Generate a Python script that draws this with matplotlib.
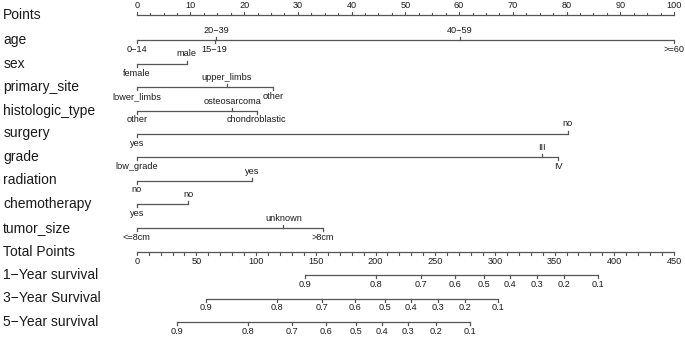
import numpy as np
import matplotlib.pyplot as plt

plt.rcParams['font.family'] = ['Liberation Sans', 'DejaVu Sans']

# predictor rows: level labels, points, label side (1 above / -1 below)
age_levels = ["0\u221214", "15\u221219", "20\u221239", "40\u221259", ">=60"]
age_points = [0, 14.5, 14.8, 60.1, 100]
age_side = [-1, -1, 1, 1, -1]

sex_levels = ["female", "male"]
sex_points = [0, 9.3]
sex_side = [-1, 1]

site_levels = ["lower_limbs", "upper_limbs", "other"]
site_points = [0, 16.8, 25.4]
site_side = [-1, 1, -1]

histo_levels = ["other", "osteosarcoma", "chondroblastic"]
histo_points = [0, 17.8, 22.3]
histo_side = [-1, 1, -1]

surgery_levels = ["yes", "no"]
surgery_points = [0, 80.2]
surgery_side = [-1, 1]

grade_levels = ["low_grade", "III", "IV"]
grade_points = [0, 75.4, 78.4]
grade_side = [-1, 1, -1]

radiation_levels = ["no", "yes"]
radiation_points = [0, 21.5]
radiation_side = [-1, 1]

chemo_levels = ["yes", "no"]
chemo_points = [0, 9.6]
chemo_side = [-1, 1]

tumor_levels = ["<=8cm", "unknown", ">8cm"]
tumor_points = [0, 27.3, 34.7]
tumor_side = [-1, 1, -1]

# survival probabilities vs total points
surv_labels = ["0.9", "0.8", "0.7", "0.6", "0.5", "0.4", "0.3", "0.2", "0.1"]
surv1_total = [141, 200.4, 237.8, 266.6, 290.9, 312.6, 335, 358.1, 386.6]
surv3_total = [57.8, 117.3, 154.9, 182.8, 208, 229.7, 252, 275, 302.8]
surv5_total = [33.5, 93.5, 130.3, 158.8, 183.7, 205.7, 227.5, 250.7, 279]

points_ticks = np.arange(0, 101, 10)
total_ticks = np.arange(0, 451, 50)
max_total = 450

fig = plt.figure(figsize=(6.85, 3.38), dpi=100)
ax = fig.add_axes([0, 0, 1, 1])
px = 100 / (674 - 136.7)          # points per pixel
ax.set_xlim(-136.7 * px, 100 + (685 - 674) * px)
ax.set_ylim(338, 0)
ax.axis('off')

lc = '#555555'
tc = '#1a1a1a'
tick = 3
lab_fs = 10
tk_fs = 6.6
lab_x = -133.5 * px


def row_label(y, text):
    ax.text(lab_x, y, text, fontsize=lab_fs, color=tc, va='center', ha='left')


def scale(y, xs, labels, sides):
    ax.plot([min(xs), max(xs)], [y, y], color=lc, lw=0.9, solid_capstyle='butt')
    for x, lab, s in zip(xs, labels, sides):
        ax.plot([x, x], [y, y - s * tick], color=lc, lw=0.9)
        if s > 0:
            ax.text(x, y - 5, lab, fontsize=tk_fs, color=tc, ha='center', va='bottom')
        else:
            ax.text(x, y + 5, lab, fontsize=tk_fs, color=tc, ha='center', va='top')


# Points axis
y = 15
row_label(y, "Points")
ax.plot([0, 100], [y, y], color=lc, lw=0.9)
for t in np.arange(0, 100.1, 2.5):
    ax.plot([t, t], [y, y - (3 if t % 10 == 0 else 2)], color=lc, lw=0.8)
for t in points_ticks:
    ax.text(t, y - 5.5, str(t), fontsize=tk_fs, color=tc, ha='center', va='bottom')

rows = [
    ("age", age_levels, age_points, age_side),
    ("sex", sex_levels, sex_points, sex_side),
    ("primary_site", site_levels, site_points, site_side),
    ("histologic_type", histo_levels, histo_points, histo_side),
    ("surgery", surgery_levels, surgery_points, surgery_side),
    ("grade", grade_levels, grade_points, grade_side),
    ("radiation", radiation_levels, radiation_points, radiation_side),
    ("chemotherapy", chemo_levels, chemo_points, chemo_side),
    ("tumor_size", tumor_levels, tumor_points, tumor_side),
]
row_y = [40, 63.5, 87, 110.5, 133.5, 157, 180.5, 204, 228]
for (name, levels, pts, side), yy in zip(rows, row_y):
    row_label(yy, name)
    scale(yy, pts, levels, side)

# Total points axis
y = 251.5
row_label(y, "Total Points")
to_pts = lambda v: np.asarray(v, dtype=float) * 100 / max_total
ax.plot([0, 100], [y, y], color=lc, lw=0.9)
for t in np.arange(0, max_total + 1, 10):
    ax.plot([to_pts(t)] * 2, [y, y + 3], color=lc, lw=0.8)
for t in total_ticks:
    ax.text(to_pts(t), y + 5.5, str(t), fontsize=tk_fs, color=tc, ha='center', va='top')

surv_rows = [
    ("1\u2212Year survival", surv1_total, 275),
    ("3\u2212Year Survival", surv3_total, 298.5),
    ("5\u2212Year survival", surv5_total, 322),
]
for name, tot, yy in surv_rows:
    row_label(yy, name)
    scale(yy, to_pts(tot), surv_labels, [-1] * len(tot))

fig.savefig("out.png", dpi=100)
